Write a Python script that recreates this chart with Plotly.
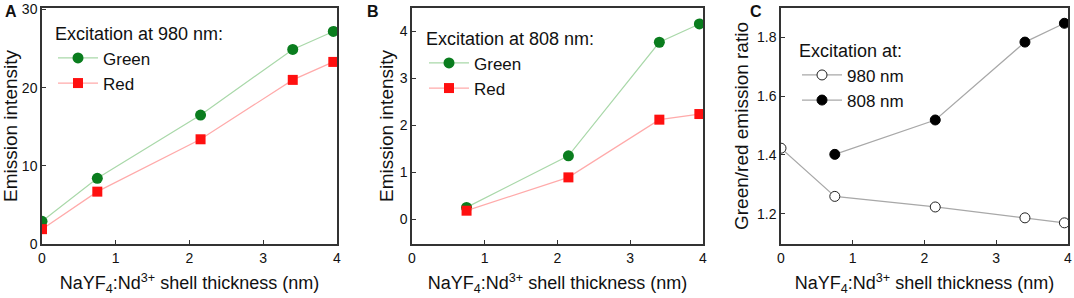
import plotly.graph_objects as go

W, H = 1074, 298

# Data
thick_a = [0.0, 0.75, 2.15, 3.4, 3.95]
green_980 = [2.9, 8.4, 16.5, 24.9, 27.2]
red_980 = [1.9, 6.7, 13.4, 21.0, 23.3]

thick_b = [0.75, 2.15, 3.4, 3.95]
green_808 = [0.25, 1.35, 3.77, 4.16]
red_808 = [0.18, 0.89, 2.12, 2.24]

ratio_980 = [1.423, 1.259, 1.223, 1.186, 1.169]
ratio_808 = [1.402, 1.519, 1.784, 1.848]

FONT = "Liberation Sans, Arial, sans-serif"
GREEN_M = "#0a7d1e"
GREEN_L = "#a9d8a9"
RED_M = "#ff1010"
RED_L = "#ffaaaa"
GRAY_L = "#a8a8a8"

fig = go.Figure()

def px_x(a, b):
    return [a / W, b / W]

def px_y(top, bottom):
    return [1 - bottom / H, 1 - top / H]

# Panel A
fig.add_trace(go.Scatter(x=thick_a, y=green_980, mode="lines+markers", name="Green",
                         line=dict(color=GREEN_L, width=1.2),
                         marker=dict(color=GREEN_M, size=11, symbol="circle"),
                         xaxis="x", yaxis="y", legend="legend"))
fig.add_trace(go.Scatter(x=thick_a, y=red_980, mode="lines+markers", name="Red",
                         line=dict(color=RED_L, width=1.2),
                         marker=dict(color=RED_M, size=10, symbol="square"),
                         xaxis="x", yaxis="y", legend="legend"))
# Panel B
fig.add_trace(go.Scatter(x=thick_b, y=green_808, mode="lines+markers", name="Green",
                         line=dict(color=GREEN_L, width=1.2),
                         marker=dict(color=GREEN_M, size=11, symbol="circle"),
                         xaxis="x2", yaxis="y2", legend="legend2"))
fig.add_trace(go.Scatter(x=thick_b, y=red_808, mode="lines+markers", name="Red",
                         line=dict(color=RED_L, width=1.2),
                         marker=dict(color=RED_M, size=10, symbol="square"),
                         xaxis="x2", yaxis="y2", legend="legend2"))
# Panel C
fig.add_trace(go.Scatter(x=thick_a, y=ratio_980, mode="lines+markers", name="980 nm",
                         line=dict(color=GRAY_L, width=1.2),
                         marker=dict(color="white", size=10, symbol="circle",
                                     line=dict(color="#222", width=1)),
                         xaxis="x3", yaxis="y3", legend="legend3"))
fig.add_trace(go.Scatter(x=thick_b, y=ratio_808, mode="lines+markers", name="808 nm",
                         line=dict(color=GRAY_L, width=1.2),
                         marker=dict(color="black", size=10, symbol="circle",
                                     line=dict(color="#000", width=1)),
                         xaxis="x3", yaxis="y3", legend="legend3"))

xtitle = "NaYF<sub>4</sub>:Nd<sup>3+</sup> shell thickness (nm)"

def xax(dom, anchor):
    return dict(domain=dom, anchor=anchor, range=[0, 4], tickvals=[0, 1, 2, 3, 4],
                ticks="inside", ticklen=4, tickwidth=1, tickcolor="#333",
                showline=True, linecolor="#333", linewidth=1.5, mirror=True,
                showgrid=False, zeroline=False, automargin=False,
                tickfont=dict(size=14, color="#111"),
                title=dict(text=xtitle, font=dict(size=18, color="#111"), standoff=12))

def yax(dom, anchor, rng, tv, ttl, standoff, ticktext=None):
    d = dict(domain=dom, anchor=anchor, range=rng, tickvals=tv,
             ticks="inside", ticklen=4, tickwidth=1, tickcolor="#333",
             showline=True, linecolor="#333", linewidth=1.5, mirror=True,
             showgrid=False, zeroline=False, automargin=False,
             tickfont=dict(size=14, color="#111"),
             title=dict(text=ttl, font=dict(size=19, color="#111"), standoff=standoff))
    if ticktext:
        d["ticktext"] = ticktext
    return d

LEG = dict(bgcolor="rgba(0,0,0,0)", font=dict(size=17, color="#111"),
           tracegroupgap=0, itemwidth=40, xanchor="left", yanchor="top")
TF = dict(size=18, color="#111")

ydom = px_y(8, 244)
fig.update_layout(
    width=W, height=H,
    margin=dict(l=0, r=0, t=0, b=0),
    paper_bgcolor="white", plot_bgcolor="white",
    font=dict(family=FONT, color="#111"),
    xaxis=xax(px_x(42, 337), "y"),
    yaxis=yax(ydom, "x", [0, 30.2], [0, 10, 20, 30], "Emission intensity", 8),
    xaxis2=xax(px_x(412, 703), "y2"),
    yaxis2=yax(ydom, "x2", [-0.53, 4.5], [0, 1, 2, 3, 4], "Emission intensity", 1),
    xaxis3=xax(px_x(781, 1068), "y3"),
    yaxis3=yax(ydom, "x3", [1.097, 1.9], [1.2, 1.4, 1.6, 1.8], "Green/red emission ratio", 3,
               ["1.2", "1.4", "1.6", "1.8"]),
    legend=dict(LEG, x=53 / W, y=1 - 17 / H,
                title=dict(text="Excitation at 980 nm:", font=TF, side="top")),
    legend2=dict(LEG, x=424 / W, y=1 - 22 / H,
                 title=dict(text="Excitation at 808 nm:", font=TF, side="top")),
    legend3=dict(LEG, x=797 / W, y=1 - 34 / H,
                 title=dict(text="Excitation at:", font=TF, side="top")),
    showlegend=True,
)

for txt, xp in [("A", 3), ("B", 365), ("C", 748)]:
    fig.add_annotation(text="<b>%s</b>" % txt, x=xp / W, y=1 - 1 / H, xref="paper", yref="paper",
                       xanchor="left", yanchor="top", showarrow=False,
                       font=dict(size=16, color="#111", family=FONT))

fig.write_html("out.html", config={"displayModeBar": False},
               post_script="document.body.style.margin='0';document.body.style.overflow='hidden';")
